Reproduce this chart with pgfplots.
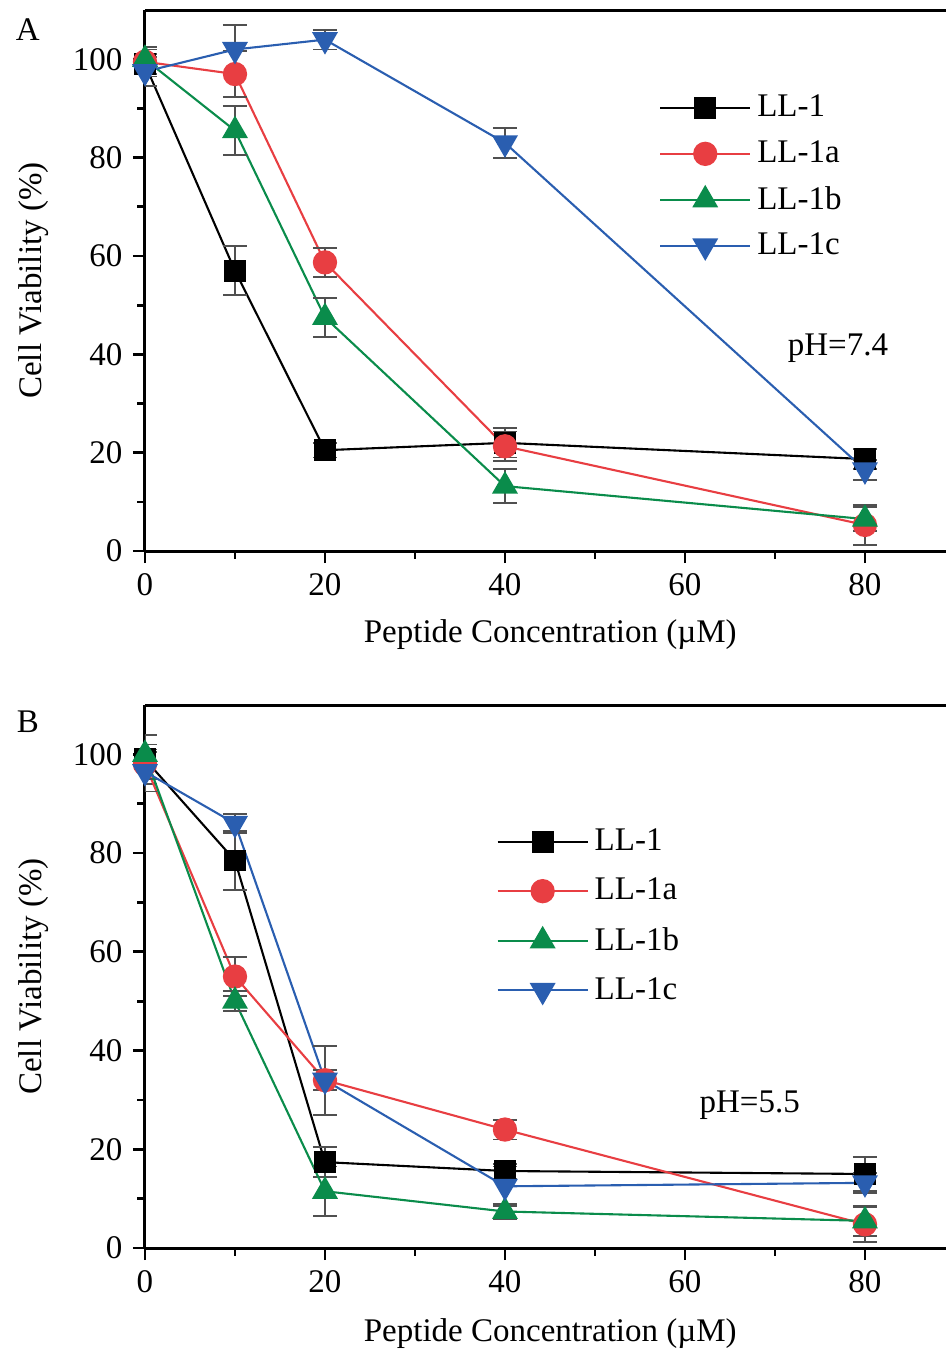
\documentclass[border=0pt]{standalone}
\usepackage{fontspec}
\setmainfont{Liberation Serif}
\usepackage{pgfplots}
\pgfplotsset{compat=1.18}

\definecolor{cred}{RGB}{232,62,66}
\definecolor{cgreen}{RGB}{10,140,75}
\definecolor{cblue}{RGB}{42,94,176}
\definecolor{cerr}{RGB}{80,80,80}

\newcommand{\fs}{\fontsize{11}{13}\selectfont}

\pgfplotsset{
  viab/.style={
    scale only axis,
    width=267pt,
    xmin=0, xmax=89, ymin=0, ymax=110,
    axis x line*=box, axis y line*=left,
    xtick pos=lower, ytick pos=left,
    tick align=outside,
    major tick length=4pt, minor tick length=2.5pt,
    xtick={0,20,40,60,80}, ytick={0,20,40,60,80,100},
    minor x tick num=1, minor y tick num=1,
    axis line style={line width=1pt},
    every tick/.style={line width=0.9pt, black},
    /pgf/number format/assume math mode=true,
    tick label style={font=\fs},
    label style={font=\fs},
    xlabel={Peptide Concentration (µM)},
    ylabel={Cell Viability (\%)},
    ylabel style={at={(axis description cs:-0.1396,0.5)}, anchor=center},
    legend style={draw=none, fill=none, font=\fs,
      anchor=north west, legend cell align=left},
    legend image code/.code={\draw[mark repeat=2,mark phase=2]
      plot coordinates {(0pt,0pt) (15pt,0pt) (30pt,0pt)};},
    every axis plot/.append style={line width=0.7pt},
    error bars/error bar style={cerr, line width=0.6pt},
    error bars/error mark options={rotate=90, mark size=4pt, cerr, line width=0.6pt},
  },
  s1/.style={black, mark=square*, mark size=3.3pt, mark options={solid, fill=black}},
  s2/.style={cred, mark=*, mark size=3.7pt, mark options={solid, fill=cred}},
  s3/.style={cgreen, mark=triangle*, mark size=4.3pt, mark options={solid, fill=cgreen}},
  s4/.style={cblue, mark=triangle*, mark size=4.3pt, mark options={solid, fill=cblue, rotate=180}},
}

\begin{document}
\begin{tikzpicture}
\path[use as bounding box] (0,0) rectangle (315.67pt,-451pt);

% ---- panel A, pH 7.4
\begin{axis}[viab, height=180.3pt,
  at={(48.33pt,-183.67pt)}, anchor=south west,
  xlabel style={at={(axis description cs:0.506,-0.155)}, anchor=center},
  legend style={at={(axis description cs:0.63,0.866)}, row sep=2.4pt},
]
\addplot+[s1, error bars/.cd, y dir=both, y explicit] coordinates {
  (0,99) +- (0,2) (10,57) +- (0,5) (20,20.5) +- (0,1.5) (40,22) +- (0,3) (80,18.7) +- (0,2)};
\addplot+[s2, error bars/.cd, y dir=both, y explicit] coordinates {
  (0,99.5) +- (0,3) (10,97) +- (0,4.7) (20,58.7) +- (0,3) (40,21.3) +- (0,3) (80,5.3) +- (0,4)};
\addplot+[s3, error bars/.cd, y dir=both, y explicit] coordinates {
  (0,100) +- (0,2) (10,85.5) +- (0,5) (20,47.5) +- (0,4) (40,13.2) +- (0,3.5) (80,6.5) +- (0,2.5)};
\addplot+[s4, error bars/.cd, y dir=both, y explicit] coordinates {
  (0,97.5) +- (0,3) (10,102) +- (0,5) (20,104) +- (0,2) (40,83) +- (0,3) (80,16.5) +- (0,2)};
\legend{LL-1,LL-1a,LL-1b,LL-1c}
\node[font=\fs] at (axis cs:77,41.3) {pH=7.4};
\end{axis}

% ---- panel B, pH 5.5
\begin{axis}[viab, height=181pt,
  at={(48.33pt,-416pt)}, anchor=south west,
  xlabel style={at={(axis description cs:0.506,-0.157)}, anchor=center},
  legend style={at={(axis description cs:0.427,0.795)}, row sep=3.6pt},
]
\addplot+[s1, error bars/.cd, y dir=both, y explicit] coordinates {
  (0,99) +- (0,5) (10,78.5) +- (0,6) (20,17.4) +- (0,3) (40,15.6) +- (0,1.5) (80,15) +- (0,3.5)};
\addplot+[s2, error bars/.cd, y dir=both, y explicit] coordinates {
  (0,98) +- (0,3) (10,55) +- (0,4) (20,34) +- (0,2) (40,24) +- (0,2) (80,4.8) +- (0,3.5)};
\addplot+[s3, error bars/.cd, y dir=both, y explicit] coordinates {
  (0,100) +- (0,2) (10,50) +- (0,2) (20,11.5) +- (0,5) (40,7.4) +- (0,1.5) (80,5.5) +- (0,3)};
\addplot+[s4, error bars/.cd, y dir=both, y explicit] coordinates {
  (0,96.5) +- (0,4) (10,86) +- (0,2) (20,34) +- (0,7) (40,12.5) +- (0,4) (80,13.2) +- (0,2)};
\legend{LL-1,LL-1a,LL-1b,LL-1c}
\node[font=\fs] at (axis cs:67.2,28.9) {pH=5.5};
\end{axis}

\node[font=\fs] at (9.3pt,-10pt) {A};
\node[font=\fs] at (9.3pt,-240.7pt) {B};
\end{tikzpicture}
\end{document}
